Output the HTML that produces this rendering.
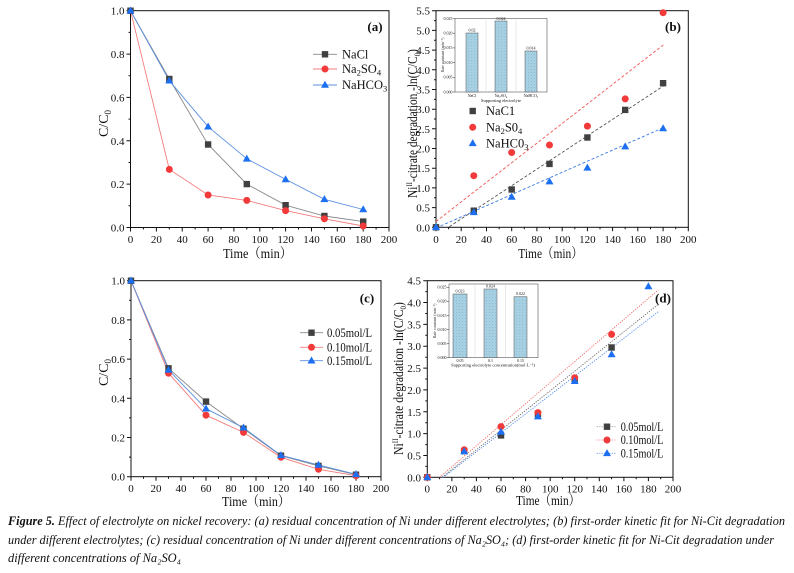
<!DOCTYPE html>
<html><head><meta charset="utf-8"><style>
html,body{margin:0;padding:0;background:#fff;}
svg{display:block;}
text{font-family:"Liberation Serif","Noto Serif CJK SC",serif;fill:#111;}
.tk{font-size:11px;}
.lg{font-size:12.5px;}
.ins{font-size:4px;fill:#333;}
</style></head><body>
<svg width="794" height="573" viewBox="0 0 794 573" xmlns="http://www.w3.org/2000/svg">
<defs>
<g id="sq"><rect x="-3.2" y="-3.2" width="6.4" height="6.4" fill="#404040"/></g>
<g id="ci"><circle r="3.5" fill="#f23a3a"/></g>
<g id="tr"><path d="M0 -4.2 L4 2.8 L-4 2.8Z" fill="#1c6ff0"/></g>
<pattern id="hb" width="3" height="3" patternUnits="userSpaceOnUse"><rect width="3" height="3" fill="#a6cfe2"/><rect width="1" height="1" fill="#8fbfd6"/></pattern>
</defs>
<rect width="794" height="573" fill="#fff"/>

<!-- ===== Panel (a) ===== -->
<g fill="none" stroke="#111" stroke-width="1">
<rect x="130.5" y="10.7" width="258.5" height="216.8"/>
<path d="M130.5 227.5v4M156.4 227.5v4M182.2 227.5v4M208.1 227.5v4M233.9 227.5v4M259.8 227.5v4M285.6 227.5v4M311.5 227.5v4M337.3 227.5v4M363.2 227.5v4M389 227.5v4M143.4 227.5v2M169.3 227.5v2M195.1 227.5v2M221 227.5v2M246.8 227.5v2M272.7 227.5v2M298.5 227.5v2M324.4 227.5v2M350.2 227.5v2M376.1 227.5v2M130.5 227.5h-4M130.5 184.1h-4M130.5 140.8h-4M130.5 97.4h-4M130.5 54.1h-4M130.5 10.7h-4M130.5 205.8h-2M130.5 162.5h-2M130.5 119.1h-2M130.5 75.7h-2M130.5 32.4h-2"/>
</g>
<g class="tk" text-anchor="middle">
<text x="130.5" y="243">0</text><text x="156.4" y="243">20</text><text x="182.2" y="243">40</text><text x="208.1" y="243">60</text><text x="233.9" y="243">80</text><text x="259.8" y="243">100</text><text x="285.6" y="243">120</text><text x="311.5" y="243">140</text><text x="337.3" y="243">160</text><text x="363.2" y="243">180</text><text x="389" y="243">200</text>
</g>
<g class="tk" text-anchor="end">
<text x="124.5" y="231.5">0.0</text><text x="124.5" y="188.1">0.2</text><text x="124.5" y="144.8">0.4</text><text x="124.5" y="101.4">0.6</text><text x="124.5" y="58.1">0.8</text><text x="124.5" y="14.7">1.0</text>
</g>
<text x="223" y="258" font-size="14" textLength="69" lengthAdjust="spacingAndGlyphs">Time（min）</text>
<text transform="translate(108,123.5) rotate(-90)" text-anchor="middle" font-size="14">C/C<tspan font-size="9" dy="3">0</tspan></text>
<text x="375" y="31" text-anchor="middle" font-size="13" font-weight="bold">(a)</text>
<polyline fill="none" stroke="#8a8a8a" stroke-width="0.9" points="130.5,10.7 169.3,79 208.1,144.5 246.8,184.1 285.6,205.2 324.4,216 363.2,221.6"/>
<polyline fill="none" stroke="#f47c7c" stroke-width="0.9" points="130.5,10.7 169.3,169.4 208.1,195 246.8,200.4 285.6,210.6 324.4,218.8 363.2,226"/>
<polyline fill="none" stroke="#5b8fe0" stroke-width="0.9" points="130.5,10.7 169.3,80.7 208.1,126.7 246.8,158.8 285.6,179.4 324.4,199.3 363.2,209.5"/>
<use href="#sq" x="130.5" y="10.7"/><use href="#sq" x="169.3" y="79"/><use href="#sq" x="208.1" y="144.5"/><use href="#sq" x="246.8" y="184.1"/><use href="#sq" x="285.6" y="205.2"/><use href="#sq" x="324.4" y="216"/><use href="#sq" x="363.2" y="221.6"/>
<use href="#ci" x="169.3" y="169.4"/><use href="#ci" x="208.1" y="195"/><use href="#ci" x="246.8" y="200.4"/><use href="#ci" x="285.6" y="210.6"/><use href="#ci" x="324.4" y="218.8"/><use href="#ci" x="363.2" y="226"/>
<use href="#tr" x="130.5" y="10.7"/><use href="#tr" x="169.3" y="80.7"/><use href="#tr" x="208.1" y="126.7"/><use href="#tr" x="246.8" y="158.8"/><use href="#tr" x="285.6" y="179.4"/><use href="#tr" x="324.4" y="199.3"/><use href="#tr" x="363.2" y="209.5"/>
<!-- legend a -->
<line x1="313" y1="54.3" x2="337" y2="54.3" stroke="#8a8a8a" stroke-width="0.9"/><use href="#sq" x="325" y="54.3"/>
<line x1="313" y1="69" x2="337" y2="69" stroke="#f47c7c" stroke-width="0.9"/><use href="#ci" x="325" y="69"/>
<line x1="313" y1="85" x2="337" y2="85" stroke="#5b8fe0" stroke-width="0.9"/><use href="#tr" x="325" y="85"/>
<text class="lg" x="342" y="58.5">NaCl</text>
<text class="lg" x="342" y="73.2">Na<tspan font-size="8.5" dy="2.5">2</tspan><tspan dy="-2.5">SO</tspan><tspan font-size="8.5" dy="2.5">4</tspan></text>
<text class="lg" x="342" y="89.2">NaHCO<tspan font-size="8.5" dy="2.5">3</tspan></text>

<!-- ===== Panel (b) ===== -->
<g fill="none" stroke="#111" stroke-width="1">
<rect x="436" y="10.7" width="252.3" height="216.6"/>
<path d="M436 227.3v4M461.2 227.3v4M486.5 227.3v4M511.7 227.3v4M536.9 227.3v4M562.2 227.3v4M587.4 227.3v4M612.6 227.3v4M637.8 227.3v4M663.1 227.3v4M688.3 227.3v4M448.6 227.3v2M473.8 227.3v2M499.1 227.3v2M524.3 227.3v2M549.5 227.3v2M574.8 227.3v2M600 227.3v2M625.2 227.3v2M650.5 227.3v2M675.7 227.3v2M436 227.3h-4M436 207.6h-4M436 187.9h-4M436 168.2h-4M436 148.5h-4M436 128.8h-4M436 109.2h-4M436 89.5h-4M436 69.8h-4M436 50.1h-4M436 30.4h-4M436 10.7h-4M436 217.5h-2M436 197.8h-2M436 178.1h-2M436 158.4h-2M436 138.7h-2M436 119h-2M436 99.4h-2M436 79.7h-2M436 60h-2M436 40.3h-2M436 20.6h-2"/>
</g>
<g class="tk" text-anchor="middle">
<text x="436" y="243">0</text><text x="461.2" y="243">20</text><text x="486.5" y="243">40</text><text x="511.7" y="243">60</text><text x="536.9" y="243">80</text><text x="562.2" y="243">100</text><text x="587.4" y="243">120</text><text x="612.6" y="243">140</text><text x="637.8" y="243">160</text><text x="663.1" y="243">180</text><text x="688.3" y="243">200</text>
</g>
<g class="tk" text-anchor="end">
<text x="430" y="231.3">0.0</text><text x="430" y="211.6">0.5</text><text x="430" y="191.9">1.0</text><text x="430" y="172.2">1.5</text><text x="430" y="152.5">2.0</text><text x="430" y="132.8">2.5</text><text x="430" y="113.2">3.0</text><text x="430" y="93.5">3.5</text><text x="430" y="73.8">4.0</text><text x="430" y="54.1">4.5</text><text x="430" y="34.4">5.0</text><text x="430" y="14.7">5.5</text>
</g>
<text x="518.3" y="258" font-size="14" textLength="64.4" lengthAdjust="spacingAndGlyphs">Time（min）</text>
<text transform="translate(417,123.5) rotate(-90) scale(0.81,1)" text-anchor="middle" font-size="14">Ni<tspan font-size="8.5" dy="-5">II</tspan><tspan dy="5">-citrate degradation -ln(C/C</tspan><tspan font-size="8.5" dy="3">0</tspan><tspan dy="-3">)</tspan></text>
<text x="673" y="31" text-anchor="middle" font-size="13" font-weight="bold">(b)</text>
<line x1="436" y1="221.5" x2="663.3" y2="45" stroke="#f25555" stroke-width="0.9" stroke-dasharray="3 2"/>
<line x1="449.3" y1="226.7" x2="663.3" y2="86" stroke="#555" stroke-width="0.9" stroke-dasharray="3 2"/>
<line x1="436" y1="228" x2="663.3" y2="127.7" stroke="#3a7ae0" stroke-width="0.9" stroke-dasharray="3 2"/>
<use href="#sq" x="436" y="227.3"/><use href="#sq" x="473.8" y="210.7"/><use href="#sq" x="511.7" y="189.5"/><use href="#sq" x="549.5" y="163.9"/><use href="#sq" x="587.4" y="137.5"/><use href="#sq" x="625.2" y="109.9"/><use href="#sq" x="663.1" y="83.2"/>
<use href="#ci" x="473.8" y="175.7"/><use href="#ci" x="511.7" y="152.5"/><use href="#ci" x="549.5" y="145"/><use href="#ci" x="587.4" y="126.1"/><use href="#ci" x="625.2" y="98.9"/><use href="#ci" x="663.1" y="12.7"/>
<use href="#tr" x="436" y="227.3"/><use href="#tr" x="473.8" y="212.3"/><use href="#tr" x="511.7" y="196.9"/><use href="#tr" x="549.5" y="181.6"/><use href="#tr" x="587.4" y="167.8"/><use href="#tr" x="625.2" y="146.6"/><use href="#tr" x="663.1" y="128.5"/>
<!-- legend b -->
<use href="#sq" x="472.7" y="111"/><use href="#ci" x="472.7" y="127.3"/><use href="#tr" x="472.7" y="143.3"/>
<text class="lg" x="486" y="115.2">NaC1</text>
<text class="lg" x="486" y="131.5">Na<tspan font-size="8.5" dy="2.5">2</tspan><tspan dy="-2.5">S0</tspan><tspan font-size="8.5" dy="2.5">4</tspan></text>
<text class="lg" x="486" y="147.5">NaHC0<tspan font-size="8.5" dy="2.5">3</tspan></text>
<!-- inset b -->
<rect x="455" y="18.5" width="92" height="73.5" fill="#fff" stroke="#555" stroke-width="0.6"/>
<path d="M486 18.5V92M516 18.5V92" stroke="#d6d6d6" stroke-width="0.5"/>
<path d="M455 92h-2M455 77.3h-2M455 62.6h-2M455 47.9h-2M455 33.2h-2M455 18.5h-2" stroke="#333" stroke-width="0.5"/>
<rect x="466" y="33" width="12" height="59" fill="url(#hb)" stroke="#555" stroke-width="0.5"/>
<rect x="495" y="21" width="12" height="71" fill="url(#hb)" stroke="#555" stroke-width="0.5"/>
<rect x="525" y="51" width="12" height="41" fill="url(#hb)" stroke="#555" stroke-width="0.5"/>
<g class="ins" text-anchor="middle">
<text x="472" y="31.5">0.02</text><text x="501" y="19.8">0.024</text><text x="531" y="49.5">0.014</text>
<text x="472" y="97">NaCl</text><text x="501" y="97">Na₂SO₄</text><text x="531" y="97">NaHCO₃</text>
<text x="501" y="102" font-size="4.5">Supporting electrolyte</text>
</g>
<g class="ins" text-anchor="end">
<text x="452.5" y="93.3">0.000</text><text x="452.5" y="78.6">0.005</text><text x="452.5" y="63.9">0.010</text><text x="452.5" y="49.2">0.015</text><text x="452.5" y="34.5">0.020</text><text x="452.5" y="19.8">0.025</text>
</g>
<text class="ins" transform="translate(444,55) rotate(-90)" text-anchor="middle">Rate constant (min⁻¹)</text>

<!-- ===== Panel (c) ===== -->
<g fill="none" stroke="#111" stroke-width="1">
<rect x="131" y="280.7" width="250" height="196"/>
<path d="M131 476.7v4M156 476.7v4M181 476.7v4M206 476.7v4M231 476.7v4M256 476.7v4M281 476.7v4M306 476.7v4M331 476.7v4M356 476.7v4M381 476.7v4M143.5 476.7v2M168.5 476.7v2M193.5 476.7v2M218.5 476.7v2M243.5 476.7v2M268.5 476.7v2M293.5 476.7v2M318.5 476.7v2M343.5 476.7v2M368.5 476.7v2M131 476.7h-4M131 437.5h-4M131 398.3h-4M131 359.1h-4M131 319.9h-4M131 280.7h-4M131 457.1h-2M131 417.9h-2M131 378.7h-2M131 339.5h-2M131 300.3h-2"/>
</g>
<g class="tk" text-anchor="middle">
<text x="131" y="492">0</text><text x="156" y="492">20</text><text x="181" y="492">40</text><text x="206" y="492">60</text><text x="231" y="492">80</text><text x="256" y="492">100</text><text x="281" y="492">120</text><text x="306" y="492">140</text><text x="331" y="492">160</text><text x="356" y="492">180</text><text x="381" y="492">200</text>
</g>
<g class="tk" text-anchor="end">
<text x="125" y="480.7">0.0</text><text x="125" y="441.5">0.2</text><text x="125" y="402.3">0.4</text><text x="125" y="363.1">0.6</text><text x="125" y="323.9">0.8</text><text x="125" y="284.7">1.0</text>
</g>
<text x="222" y="506" font-size="14" textLength="68" lengthAdjust="spacingAndGlyphs">Time（min）</text>
<text transform="translate(108,372.5) rotate(-90)" text-anchor="middle" font-size="14">C/C<tspan font-size="9" dy="3">0</tspan></text>
<text x="367" y="302.5" text-anchor="middle" font-size="13" font-weight="bold">(c)</text>
<polyline fill="none" stroke="#8a8a8a" stroke-width="0.9" points="131,280.7 168.5,368.3 206,401.6 243.5,428.7 281,455.7 318.5,465.9 356,474.7"/>
<polyline fill="none" stroke="#f47c7c" stroke-width="0.9" points="131,280.7 168.5,373.2 206,415.2 243.5,432.4 281,457.3 318.5,469.3 356,475.7"/>
<polyline fill="none" stroke="#5b8fe0" stroke-width="0.9" points="131,280.7 168.5,369.9 206,408.7 243.5,427.7 281,455.3 318.5,464.9 356,474.3"/>
<use href="#sq" x="131" y="280.7"/><use href="#sq" x="168.5" y="368.3"/><use href="#sq" x="206" y="401.6"/><use href="#sq" x="243.5" y="428.7"/><use href="#sq" x="281" y="455.7"/><use href="#sq" x="318.5" y="465.9"/><use href="#sq" x="356" y="474.7"/>
<use href="#ci" x="168.5" y="373.2"/><use href="#ci" x="206" y="415.2"/><use href="#ci" x="243.5" y="432.4"/><use href="#ci" x="281" y="457.3"/><use href="#ci" x="318.5" y="469.3"/><use href="#ci" x="356" y="475.7"/>
<use href="#tr" x="131" y="280.7"/><use href="#tr" x="168.5" y="369.9"/><use href="#tr" x="206" y="408.7"/><use href="#tr" x="243.5" y="427.7"/><use href="#tr" x="281" y="455.3"/><use href="#tr" x="318.5" y="464.9"/><use href="#tr" x="356" y="474.3"/>
<!-- legend c -->
<line x1="300" y1="332.7" x2="323" y2="332.7" stroke="#8a8a8a" stroke-width="0.9"/><use href="#sq" x="311.5" y="332.7"/>
<line x1="300" y1="347.3" x2="323" y2="347.3" stroke="#f47c7c" stroke-width="0.9"/><use href="#ci" x="311.5" y="347.3"/>
<line x1="300" y1="360.7" x2="323" y2="360.7" stroke="#5b8fe0" stroke-width="0.9"/><use href="#tr" x="311.5" y="360.7"/>
<text class="lg" x="327" y="336.9" textLength="45" lengthAdjust="spacingAndGlyphs">0.05mol/L</text>
<text class="lg" x="327" y="351.5" textLength="45" lengthAdjust="spacingAndGlyphs">0.10mol/L</text>
<text class="lg" x="327" y="364.9" textLength="45" lengthAdjust="spacingAndGlyphs">0.15mol/L</text>

<!-- ===== Panel (d) ===== -->
<g fill="none" stroke="#111" stroke-width="1">
<rect x="427.3" y="280.7" width="245.7" height="196.6"/>
<path d="M427.3 477.3v4M451.9 477.3v4M476.4 477.3v4M501 477.3v4M525.6 477.3v4M550.2 477.3v4M574.7 477.3v4M599.3 477.3v4M623.9 477.3v4M648.4 477.3v4M673 477.3v4M439.6 477.3v2M464.2 477.3v2M488.7 477.3v2M513.3 477.3v2M537.9 477.3v2M562.4 477.3v2M587 477.3v2M611.6 477.3v2M636.2 477.3v2M660.7 477.3v2M427.3 477.3h-4M427.3 455.5h-4M427.3 433.6h-4M427.3 411.8h-4M427.3 389.9h-4M427.3 368.1h-4M427.3 346.2h-4M427.3 324.4h-4M427.3 302.5h-4M427.3 280.7h-4M427.3 466.4h-2M427.3 444.6h-2M427.3 422.7h-2M427.3 400.9h-2M427.3 379h-2M427.3 357.2h-2M427.3 335.3h-2M427.3 313.5h-2M427.3 291.6h-2"/>
</g>
<g class="tk" text-anchor="middle">
<text x="427.3" y="492.5">0</text><text x="451.9" y="492.5">20</text><text x="476.4" y="492.5">40</text><text x="501" y="492.5">60</text><text x="525.6" y="492.5">80</text><text x="550.2" y="492.5">100</text><text x="574.7" y="492.5">120</text><text x="599.3" y="492.5">140</text><text x="623.9" y="492.5">160</text><text x="648.4" y="492.5">180</text><text x="673" y="492.5">200</text>
</g>
<g class="tk" text-anchor="end">
<text x="421" y="481.3">0.0</text><text x="421" y="459.5">0.5</text><text x="421" y="437.6">1.0</text><text x="421" y="415.8">1.5</text><text x="421" y="393.9">2.0</text><text x="421" y="372.1">2.5</text><text x="421" y="350.2">3.0</text><text x="421" y="328.4">3.5</text><text x="421" y="306.5">4.0</text><text x="421" y="284.7">4.5</text>
</g>
<text x="516" y="505" font-size="14" textLength="64" lengthAdjust="spacingAndGlyphs">Time（min）</text>
<text transform="translate(403,378.5) rotate(-90) scale(0.83,1)" text-anchor="middle" font-size="14">Ni<tspan font-size="8.5" dy="-5">II</tspan><tspan dy="5">-citrate degradation -ln(C/C</tspan><tspan font-size="8.5" dy="3">0</tspan><tspan dy="-3">)</tspan></text>
<text x="663" y="302.5" text-anchor="middle" font-size="13" font-weight="bold">(d)</text>
<line x1="439.6" y1="477.3" x2="658.3" y2="289.9" stroke="#f26565" stroke-width="0.9" stroke-dasharray="1.2 1.3"/>
<line x1="442" y1="477.3" x2="658.3" y2="304.3" stroke="#666" stroke-width="0.9" stroke-dasharray="1.2 1.3"/>
<line x1="443.3" y1="477.3" x2="658.3" y2="311.7" stroke="#4a86e8" stroke-width="0.9" stroke-dasharray="1.2 1.3"/>
<use href="#sq" x="427.3" y="477.3"/><use href="#sq" x="464.2" y="451.1"/><use href="#sq" x="501" y="435.4"/><use href="#sq" x="537.9" y="414"/><use href="#sq" x="574.7" y="379"/><use href="#sq" x="611.6" y="347.5"/>
<use href="#ci" x="427.3" y="477.3"/><use href="#ci" x="464.2" y="449.8"/><use href="#ci" x="501" y="426.6"/><use href="#ci" x="537.9" y="412.6"/><use href="#ci" x="574.7" y="377.7"/><use href="#ci" x="611.6" y="334.4"/>
<use href="#tr" x="427.3" y="477.3"/><use href="#tr" x="464.2" y="451.5"/><use href="#tr" x="501" y="431.9"/><use href="#tr" x="537.9" y="416.6"/><use href="#tr" x="574.7" y="381.2"/><use href="#tr" x="611.6" y="354.5"/><use href="#tr" x="648.4" y="286.4"/>
<!-- legend d -->
<line x1="596.7" y1="426.7" x2="616.7" y2="426.7" stroke="#999" stroke-width="0.8" stroke-dasharray="1.2 1.3"/><use href="#sq" x="607" y="426.7"/>
<line x1="596.7" y1="440" x2="616.7" y2="440" stroke="#f47c7c" stroke-width="0.8" stroke-dasharray="1.2 1.3"/><use href="#ci" x="607" y="440"/>
<line x1="596.7" y1="453.3" x2="616.7" y2="453.3" stroke="#5b8fe0" stroke-width="0.8" stroke-dasharray="1.2 1.3"/><use href="#tr" x="607" y="453.3"/>
<text class="lg" x="620.7" y="430.9" textLength="42.6" lengthAdjust="spacingAndGlyphs">0.05mol/L</text>
<text class="lg" x="620.7" y="444.2" textLength="42.6" lengthAdjust="spacingAndGlyphs">0.10mol/L</text>
<text class="lg" x="620.7" y="457.5" textLength="42.6" lengthAdjust="spacingAndGlyphs">0.15mol/L</text>
<!-- inset d -->
<rect x="449" y="284" width="89" height="73.7" fill="#fff" stroke="#555" stroke-width="0.6"/>
<path d="M475 284V357.7M505.5 284V357.7" stroke="#d6d6d6" stroke-width="0.5"/>
<path d="M449 357.7h-2M449 343.6h-2M449 329.5h-2M449 315.5h-2M449 301.4h-2M449 287.3h-2" stroke="#333" stroke-width="0.5"/>
<rect x="453" y="294" width="14" height="63.7" fill="url(#hb)" stroke="#555" stroke-width="0.5"/>
<rect x="484" y="289" width="13" height="68.7" fill="url(#hb)" stroke="#555" stroke-width="0.5"/>
<rect x="514" y="296.7" width="13" height="61" fill="url(#hb)" stroke="#555" stroke-width="0.5"/>
<g class="ins" text-anchor="middle">
<text x="460" y="292.5">0.023</text><text x="490.5" y="287.5">0.024</text><text x="520.5" y="295.2">0.022</text>
<text x="460" y="362">0.05</text><text x="490.5" y="362">0.1</text><text x="520.5" y="362">0.15</text>
<text x="493" y="366.5" font-size="4.5">Supporting electrolyte concentration(mol·L⁻¹)</text>
</g>
<g class="ins" text-anchor="end">
<text x="446.5" y="359">0.000</text><text x="446.5" y="344.9">0.005</text><text x="446.5" y="330.8">0.010</text><text x="446.5" y="316.8">0.015</text><text x="446.5" y="302.7">0.020</text><text x="446.5" y="288.6">0.025</text>
</g>
<text class="ins" transform="translate(436,321) rotate(-90)" text-anchor="middle">Rate constant (min⁻¹)</text>

<!-- ===== Caption ===== -->
<g font-size="12.5" font-style="italic">
<text x="8" y="525" font-weight="bold" textLength="47" lengthAdjust="spacingAndGlyphs">Figure 5.</text>
<text x="58" y="525" textLength="727" lengthAdjust="spacingAndGlyphs">Effect of electrolyte on nickel recovery: (a) residual concentration of Ni under different electrolytes; (b) first-order kinetic fit for Ni-Cit degradation</text>
<text x="8" y="544" textLength="766" lengthAdjust="spacingAndGlyphs">under different electrolytes; (c) residual concentration of Ni under different concentrations of Na₂SO₄; (d) first-order kinetic fit for Ni-Cit degradation under</text>
<text x="8" y="562" textLength="173" lengthAdjust="spacingAndGlyphs">different concentrations of Na₂SO₄</text>
</g>
</svg>
</body></html>
